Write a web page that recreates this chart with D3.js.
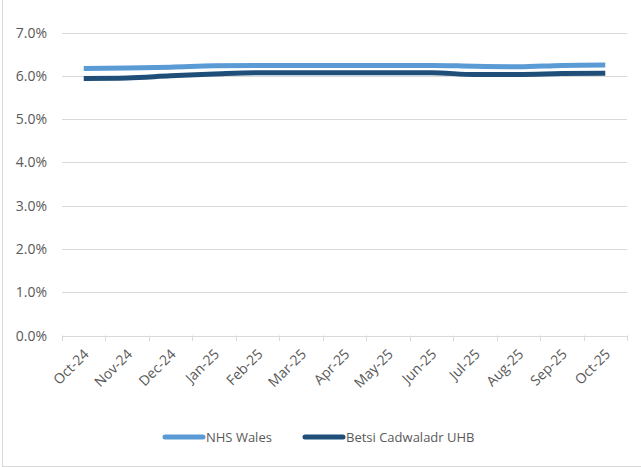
<!DOCTYPE html>
<html><head><meta charset="utf-8">
<script src="https://cdn.jsdelivr.net/npm/d3@7"></script>
<style>body{margin:0;background:#fff}svg{display:block}text{font-family:"Open Sans",sans-serif;fill:#595959}</style>
</head><body><svg id="c" width="641" height="467"></svg>
<script>
const months = ["Oct-24","Nov-24","Dec-24","Jan-25","Feb-25","Mar-25","Apr-25","May-25","Jun-25","Jul-25","Aug-25","Sep-25","Oct-25"];
const nhsWales = [6.17,6.18,6.20,6.23,6.24,6.24,6.24,6.24,6.24,6.22,6.21,6.24,6.25];
const betsi = [5.94,5.95,6.00,6.04,6.07,6.07,6.07,6.07,6.07,6.03,6.03,6.05,6.06];
const yTicks = [0,1,2,3,4,5,6,7];
const seriesNames = ["NHS Wales","Betsi Cadwaladr UHB"];
const colors = ["#5B9BD5","#1F4E79"];

const svg = d3.select("#c");
svg.append("rect").attr("x",2.5).attr("y",-2).attr("width",645).attr("height",468.5)
  .attr("fill","none").attr("stroke","#d9d9d9");

const x = d3.scaleBand().domain(months).range([62,627]);
const y = d3.scaleLinear().domain([0,7]).range([335.5,32.5]);

const grid = svg.append("g");
yTicks.forEach(t=>{
  grid.append("line").attr("x1",62).attr("x2",627).attr("y1",Math.round(y(t))+0.5).attr("y2",Math.round(y(t))+0.5)
    .attr("stroke","#d9d9d9").attr("stroke-width",1);
  svg.append("text").attr("x",47).attr("y",y(t)+5).attr("text-anchor","end")
    .style("font-size","14px").text(t.toFixed(1)+"%");
});
const xt = months.map(m=>x(m)).concat([627]);
xt.forEach(v=>{
  svg.append("line").attr("x1",Math.round(v)+0.5).attr("x2",Math.round(v)+0.5)
    .attr("y1",335.5).attr("y2",341).attr("stroke","#d9d9d9");
});
months.forEach(m=>{
  const cx = x(m)+x.bandwidth()/2;
  svg.append("text").attr("transform",`translate(${cx+6},${355}) rotate(-45)`)
    .attr("text-anchor","end").style("font-size","14px").text(m);
});

const line = d3.line().x((d,i)=>x(months[i])+x.bandwidth()/2).y(d=>y(d)).curve(d3.curveMonotoneX);
[nhsWales,betsi].forEach((s,k)=>{
  svg.append("path").attr("d",line(s)).attr("fill","none").attr("stroke",colors[k])
    .attr("stroke-width",5).attr("stroke-linecap","butt");
});

const leg = [{x:165,name:seriesNames[0],c:colors[0]},{x:305,name:seriesNames[1],c:colors[1]}];
leg.forEach(l=>{
  svg.append("line").attr("x1",l.x).attr("x2",l.x+38).attr("y1",437).attr("y2",437)
    .attr("stroke",l.c).attr("stroke-width",5).attr("stroke-linecap","round");
  svg.append("text").attr("x",l.x+41).attr("y",442).style("font-size","13px").text(l.name);
});
</script></body></html>
